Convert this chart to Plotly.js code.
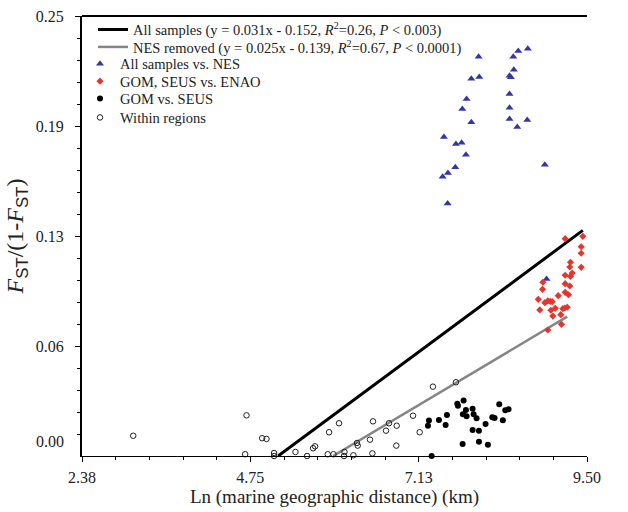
<!DOCTYPE html>
<html><head><meta charset="utf-8">
<script src="https://cdn.plot.ly/plotly-3.0.1.min.js"></script>
<style>html,body{margin:0;padding:0;background:#fff;} #chart{width:628px;height:512px;}</style>
</head><body><div id="chart"></div>
<script>
// All samples vs. NES
const nesX = [7.971, 8.460, 8.530, 8.665, 7.868, 7.980, 8.468, 8.407, 8.426, 7.801, 7.741, 8.407, 8.407, 7.868, 8.407, 8.657, 8.516, 7.481, 7.651, 7.731, 7.792, 7.642, 7.538, 7.463, 8.905, 7.534, 8.929];
const nesY = [0.2269, 0.2269, 0.2301, 0.2314, 0.2144, 0.2153, 0.2195, 0.2161, 0.2152, 0.2028, 0.1972, 0.2057, 0.1979, 0.1896, 0.1915, 0.1909, 0.1869, 0.1813, 0.1773, 0.1780, 0.1712, 0.1640, 0.1608, 0.1587, 0.1655, 0.1434, 0.1006];
// GOM, SEUS vs. ENAO
const enaoX = [9.192, 9.441, 9.418, 9.418, 9.418, 9.267, 9.257, 9.291, 9.267, 9.192, 9.192, 9.257, 8.877, 8.873, 9.094, 9.192, 9.239, 8.812, 8.905, 8.947, 8.981, 9.009, 9.052, 8.990, 8.834, 9.159, 9.187, 9.221, 9.018, 9.130, 9.140, 8.947];
const enaoY = [0.1235, 0.1248, 0.1189, 0.1152, 0.1072, 0.1101, 0.1074, 0.1040, 0.1021, 0.1027, 0.0979, 0.0966, 0.0987, 0.0947, 0.0911, 0.0930, 0.0916, 0.0890, 0.0871, 0.0881, 0.0879, 0.0877, 0.0839, 0.0828, 0.0830, 0.0837, 0.0841, 0.0845, 0.0795, 0.0803, 0.0748, 0.0716];
// GOM vs. SEUS
const seusX = [7.759, 7.670, 7.679, 7.886, 7.792, 7.749, 7.801, 7.900, 7.942, 7.524, 7.411, 7.270, 7.256, 7.505, 8.069, 8.164, 8.196, 8.262, 8.347, 8.393, 8.313, 7.886, 7.975, 7.975, 7.745, 8.102, 7.308];
const seusY = [0.0316, 0.0297, 0.0286, 0.0269, 0.0261, 0.0237, 0.0226, 0.0237, 0.0214, 0.0233, 0.0205, 0.0201, 0.0172, 0.0176, 0.0182, 0.0220, 0.0216, 0.0294, 0.0260, 0.0265, 0.0203, 0.0148, 0.0144, 0.0081, 0.0068, 0.0064, 0.0000];
// Within regions
const withinX = [3.098, 4.696, 4.916, 4.978, 4.677, 5.085, 5.085, 5.387, 5.550, 5.635, 5.663, 5.861, 6.001, 5.842, 5.923, 6.078, 6.072, 6.204, 6.255, 6.265, 6.438, 6.481, 6.472, 6.664, 6.706, 6.815, 6.810, 7.045, 7.139, 7.326, 7.651];
const withinY = [0.0115, 0.0231, 0.0101, 0.0097, 0.0010, 0.0017, 0.0000, 0.0023, 0.0000, 0.0044, 0.0055, 0.0135, 0.0186, 0.0010, 0.0010, 0.0023, 0.0000, 0.0004, 0.0074, 0.0059, 0.0093, 0.0197, 0.0015, 0.0144, 0.0186, 0.0172, 0.0059, 0.0229, 0.0135, 0.0394, 0.0419];
// Regression lines (end points as drawn)
const allLineX = [5.142, 9.441];
const allLineY = [0.0, 0.1282];
const nesRemLineX = [5.917, 9.221];
const nesRemLineY = [0.0, 0.0792];
// Tick labels
const xTickVals = [2.375, 4.75, 7.125, 9.5];
const xTickText = ["2.38", "4.75", "7.13", "9.50"];
const yTickVals = [0.0625, 0.125, 0.1875, 0.25];
const yTickText = ["0.06", "0.13", "0.19", "0.25"];
const yZeroLabel = "0.00";
// Series names
const names = [
  'All samples (y = 0.031x - 0.152, <i>R</i><sup>2</sup>=0.26, <i>P</i> < 0.003)',
  'NES removed (y = 0.025x - 0.139, <i>R</i><sup>2</sup>=0.67, <i>P</i> < 0.0001)',
  'All samples vs. NES',
  'GOM, SEUS vs. ENAO',
  'GOM vs. SEUS',
  'Within regions'
];

const serif = "Liberation Serif, Times New Roman, serif";
const sans = "Liberation Sans, Arial, sans-serif";

const xMinor = [];
for (let k = 0; k <= 15; k++) { const v = 2.375 + 0.475 * k; if (k % 5 !== 0) xMinor.push(v); }
const yMinor = [];
for (let k = 0; k <= 20; k++) { if (k % 5 !== 0) yMinor.push(0.0125 * k); }

const traces = [
  {x: allLineX, y: allLineY, mode: 'lines', name: names[0],
   line: {color: '#000', width: 3}, legend: 'legend', cliponaxis: false},
  {x: nesRemLineX, y: nesRemLineY, mode: 'lines', name: names[1],
   line: {color: '#858585', width: 2.5}, legend: 'legend2', cliponaxis: false},
  {x: nesX, y: nesY, mode: 'markers', name: names[2],
   marker: {symbol: 'triangle-up', size: 7, color: '#3535a8'}, legend: 'legend3', cliponaxis: false},
  {x: enaoX, y: enaoY, mode: 'markers', name: names[3],
   marker: {symbol: 'diamond', size: 5.5, color: '#e8342c'}, legend: 'legend4', cliponaxis: false},
  {x: seusX, y: seusY, mode: 'markers', name: names[4],
   marker: {symbol: 'circle', size: 6, color: '#000'}, legend: 'legend5', cliponaxis: false},
  {x: withinX, y: withinY, mode: 'markers', name: names[5],
   marker: {symbol: 'circle-open', size: 5.5, color: '#222', line: {width: 1, color: '#222'}}, legend: 'legend6', cliponaxis: false}
];

function legendAt(cy, left) {
  return {x: (left - 82) / 505, y: (456 - (cy - 16.5)) / 440, xanchor: 'left', yanchor: 'top',
          bgcolor: 'rgba(0,0,0,0)', borderwidth: 0, font: {family: serif, size: 14.5, color: '#222'}};
}

const subST = '<sub><span style="font-family:' + sans + '">ST</span></sub>';

const layout = {
  width: 628, height: 512,
  margin: {l: 82, r: 41, t: 16, b: 56},
  paper_bgcolor: '#fff', plot_bgcolor: '#fff',
  font: {family: serif, size: 16, color: '#222'},
  showlegend: true,
  xaxis: {
    range: [2.375, 9.5], showgrid: false, zeroline: false,
    showline: true, linecolor: '#000', linewidth: 1,
    ticks: 'outside', ticklen: 5, tickwidth: 1, tickcolor: '#000',
    ticklabelstandoff: 2,
    tickmode: 'array', tickvals: xTickVals, ticktext: xTickText,
    tickfont: {family: serif, size: 16, color: '#222'},
    minor: {tickmode: 'array', tickvals: xMinor, ticks: 'outside', ticklen: 3, tickcolor: '#000', showgrid: false},
    title: {text: 'Ln (marine geographic distance) (km)', font: {family: serif, size: 19, color: '#222'}, standoff: 2}
  },
  yaxis: {
    range: [0, 0.25], showgrid: false, zeroline: false,
    showline: true, linecolor: '#000', linewidth: 2,
    ticks: 'outside', ticklen: 5, tickwidth: 1, tickcolor: '#000',
    ticklabelstandoff: 8,
    tickmode: 'array', tickvals: yTickVals, ticktext: yTickText,
    tickfont: {family: serif, size: 16, color: '#222'},
    minor: {tickmode: 'array', tickvals: yMinor, ticks: 'outside', ticklen: 3, tickcolor: '#000', showgrid: false},
    title: {text: '<i>F</i>' + subST + '/(1-<i>F</i>' + subST + ')',
            font: {family: serif, size: 24, color: '#222'}, standoff: 5}
  },
  legend: legendAt(30, 93),
  legend2: legendAt(47.5, 93),
  legend3: legendAt(64.3, 80),
  legend4: legendAt(81.7, 80),
  legend5: legendAt(99, 80),
  legend6: legendAt(118, 80),
  shapes: [{type: 'line', xref: 'paper', yref: 'paper', x0: 0, x1: 1, y0: 1, y1: 1, line: {color: '#000', width: 2}}],
  annotations: [{xref: 'paper', yref: 'y', x: 0, y: 0.0085, text: yZeroLabel, showarrow: false, xanchor: 'right', yanchor: 'middle',
                 xshift: -16, font: {family: serif, size: 16, color: '#222'}}]
};

Plotly.newPlot('chart', traces, layout, {displayModeBar: false, staticPlot: true});
</script>
</body></html>
